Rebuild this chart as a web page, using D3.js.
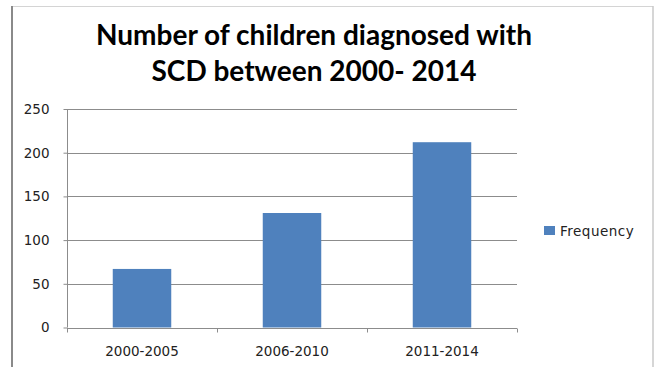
<!DOCTYPE html>
<html>
<head>
<meta charset="utf-8">
<script src="https://cdn.jsdelivr.net/npm/d3@7"></script>
<style>
  html, body { margin: 0; padding: 0; background: #fff; }
  svg { display: block; }
</style>
</head>
<body>
<script>
// Diagnosed children per period
const categories = ["2000-2005", "2006-2010", "2011-2014"];
const frequency = [67, 131, 212];
const yTicks = [0, 50, 100, 150, 200, 250];
const seriesName = "Frequency";
const titleLines = ["Number of children diagnosed with", "SCD between 2000- 2014"];

const W = 655, H = 367;
const plot = { left: 67, right: 517, top: 109, bottom: 327.5 };
const barColor = "#4F81BD";
const gridColor = "#8c8c8c";
const textColor = "#222";
const labelFont = "'DejaVu Sans', Verdana, sans-serif";

const svg = d3.select("body").append("svg")
  .attr("width", W).attr("height", H);

// chart frame
svg.append("line").attr("x1", 12).attr("x2", 653).attr("y1", 6.5).attr("y2", 6.5)
  .attr("stroke", "#d4d4d4").attr("stroke-width", 1);
svg.append("line").attr("x1", 12).attr("x2", 12).attr("y1", 6).attr("y2", H)
  .attr("stroke", "#8a8a8a").attr("stroke-width", 2);
svg.append("line").attr("x1", 653).attr("x2", 653).attr("y1", 6).attr("y2", H)
  .attr("stroke", "#c8c8c8").attr("stroke-width", 1.5);

// title
svg.append("text")
  .attr("text-anchor", "middle")
  .attr("font-family", "Lato, 'Open Sans', sans-serif")
  .attr("font-weight", 700).attr("font-size", 28).attr("fill", "#000")
  .selectAll("tspan").data(titleLines).join("tspan")
  .attr("x", 314).attr("y", (d, i) => 45 + i * 36)
  .text(d => d);

const x = d3.scaleBand().domain(categories).range([plot.left, plot.right])
  .paddingInner(0.61).paddingOuter(0.305);
const xTickScale = d3.scaleLinear().domain([0, categories.length]).range([plot.left, plot.right]);
const y = d3.scaleLinear().domain([0, 250]).range([plot.bottom, plot.top]);

// horizontal gridlines
svg.append("g").selectAll("line").data(yTicks.filter(t => t > 0)).join("line")
  .attr("x1", plot.left).attr("x2", plot.right)
  .attr("y1", d => Math.round(y(d)) + 0.5).attr("y2", d => Math.round(y(d)) + 0.5)
  .attr("stroke", gridColor).attr("stroke-width", 1);

// bars
svg.append("g").selectAll("rect").data(frequency).join("rect")
  .attr("x", (d, i) => x(categories[i]))
  .attr("width", x.bandwidth())
  .attr("y", d => y(d))
  .attr("height", d => plot.bottom - y(d))
  .attr("fill", barColor);

// y axis
const yAxis = svg.append("g").attr("transform", `translate(${plot.left + 0.5},0)`)
  .call(d3.axisLeft(y).tickValues(yTicks).tickSize(4).tickPadding(14).tickFormat(d3.format("d")));
yAxis.select(".domain").attr("stroke", gridColor).attr("d", `M-0,${plot.top}V${plot.bottom}`);
yAxis.selectAll(".tick line").attr("stroke", gridColor);
yAxis.selectAll(".tick text")
  .attr("font-family", labelFont)
  .attr("font-size", 13.5).attr("fill", textColor);

// x axis
const xAxis = svg.append("g").attr("transform", `translate(0,${Math.round(plot.bottom) + 0.5})`);
xAxis.append("line").attr("x1", plot.left).attr("x2", plot.right)
  .attr("stroke", gridColor);
xAxis.selectAll("line.tk").data(d3.range(categories.length + 1)).join("line")
  .attr("class", "tk")
  .attr("x1", d => Math.round(xTickScale(d)) + 0.5).attr("x2", d => Math.round(xTickScale(d)) + 0.5)
  .attr("y1", 0).attr("y2", 4).attr("stroke", gridColor);
xAxis.selectAll("text").data(categories).join("text")
  .attr("x", d => x(d) + x.bandwidth() / 2).attr("y", 27)
  .attr("text-anchor", "middle")
  .attr("font-family", labelFont)
  .attr("font-size", 13.5).attr("fill", textColor)
  .text(d => d);

// legend
const legend = svg.append("g").attr("transform", "translate(544,226)");
legend.append("rect").attr("width", 11).attr("height", 9).attr("fill", barColor);
legend.append("text").attr("x", 16).attr("y", 9.5)
  .attr("font-family", labelFont)
  .attr("font-size", 13.5).attr("letter-spacing", 0.5).attr("fill", textColor)
  .text(seriesName);
</script>
</body>
</html>
